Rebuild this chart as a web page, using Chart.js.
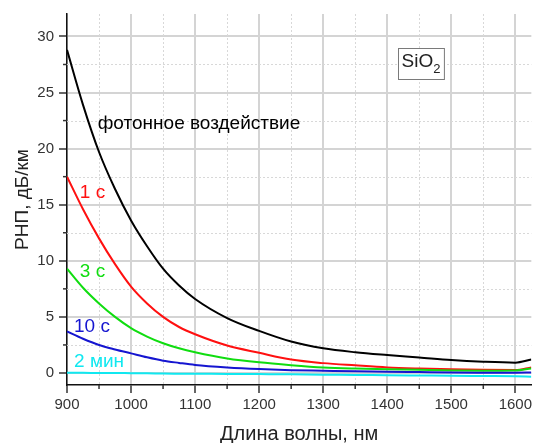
<!DOCTYPE html>
<html>
<head>
<meta charset="utf-8">
<script src="https://cdn.jsdelivr.net/npm/chart.js@4"></script>
<style>
  body { margin: 0; background: #fff; }
  canvas { display: block; }
</style>
</head>
<body>
<canvas id="chart" width="535" height="443"></canvas>
<script>
// Длины волн, нм
const wavelengths = [900, 925, 950, 975, 1000, 1025, 1050, 1075, 1100, 1150, 1200, 1250, 1300, 1350, 1400, 1450, 1500, 1550, 1600, 1625];

// РНП, дБ/км для разных режимов обработки
const photonLoss = [28.8, 23.9, 19.7, 16.4, 13.6, 11.3, 9.3, 7.8, 6.6, 4.9, 3.75, 2.8, 2.2, 1.85, 1.6, 1.38, 1.15, 1.0, 0.92, 1.2];
const loss1s     = [17.5, 14.6, 12.0, 9.7, 7.7, 6.2, 5.0, 4.1, 3.45, 2.45, 1.8, 1.2, 0.88, 0.68, 0.5, 0.4, 0.33, 0.28, 0.27, 0.5];
const loss3s     = [9.3, 7.6, 6.2, 5.0, 4.0, 3.25, 2.65, 2.2, 1.85, 1.3, 0.95, 0.7, 0.5, 0.4, 0.34, 0.28, 0.22, 0.2, 0.22, 0.4];
const loss10s    = [3.7, 3.05, 2.5, 2.1, 1.75, 1.4, 1.1, 0.9, 0.72, 0.5, 0.35, 0.25, 0.2, 0.15, 0.12, 0.08, 0.04, 0.03, 0.03, 0.05];
const loss2min   = [0.02, 0.02, 0.0, 0.0, -0.02, -0.03, -0.05, -0.06, -0.07, -0.08, -0.1, -0.12, -0.15, -0.17, -0.2, -0.22, -0.24, -0.27, -0.3, -0.33];

// Деления осей
const xTicks = [900, 1000, 1100, 1200, 1300, 1400, 1500, 1600];
const xMinor = [950, 1050, 1150, 1250, 1350, 1450, 1550];
const yTicks = [0, 5, 10, 15, 20, 25, 30];
const yMinor = [2.5, 7.5, 12.5, 17.5, 22.5, 27.5];

// Подписи кривых: текст, цвет, точка привязки (левый край, середина по высоте)
const curveLabels = [
  { text: 'фотонное воздействие', color: '#000000', x: 948, y: 22.2 },
  { text: '1 с', color: '#ff1010', x: 920, y: 16.1 },
  { text: '3 с', color: '#10dd10', x: 920, y: 9.0 },
  { text: '10 с', color: '#1515d0', x: 911, y: 4.1 },
  { text: '2 мин', color: '#10e8f0', x: 911, y: 1.0 }
];

const FONT = 'Arial, "Liberation Sans", sans-serif';

const toPoints = arr => arr.map((v, i) => ({ x: wavelengths[i], y: v }));

function series(data, color) {
  return {
    data: toPoints(data),
    borderColor: color,
    borderWidth: 2,
    pointRadius: 0,
    fill: false,
    cubicInterpolationMode: 'monotone'
  };
}

// Дополнительная сетка (пунктир) и малые деления
const minorGrid = {
  id: 'minorGrid',
  beforeDatasetsDraw(chart) {
    const { ctx, chartArea: a, scales: { x, y } } = chart;
    ctx.save();
    ctx.strokeStyle = '#d8d8d8';
    ctx.lineWidth = 1;
    ctx.setLineDash([2, 2]);
    xMinor.forEach(v => {
      const px = Math.round(x.getPixelForValue(v)) + 0.5;
      ctx.beginPath(); ctx.moveTo(px, a.top); ctx.lineTo(px, a.bottom); ctx.stroke();
    });
    yMinor.forEach(v => {
      const py = Math.round(y.getPixelForValue(v)) + 0.5;
      ctx.beginPath(); ctx.moveTo(a.left, py); ctx.lineTo(a.right, py); ctx.stroke();
    });
    ctx.restore();
  },
  afterDraw(chart) {
    const { ctx, chartArea: a, scales: { x, y } } = chart;
    ctx.save();
    ctx.strokeStyle = '#333';
    ctx.lineWidth = 1.5;
    xMinor.forEach(v => {
      const px = x.getPixelForValue(v);
      ctx.beginPath(); ctx.moveTo(px, a.bottom); ctx.lineTo(px, a.bottom + 4); ctx.stroke();
    });
    yMinor.forEach(v => {
      const py = y.getPixelForValue(v);
      ctx.beginPath(); ctx.moveTo(a.left - 4, py); ctx.lineTo(a.left, py); ctx.stroke();
    });
    ctx.restore();
  }
};

// Подписи кривых и рамка с названием материала
const annotations = {
  id: 'annotations',
  afterDatasetsDraw(chart) {
    const { ctx, scales: { x, y } } = chart;
    ctx.save();
    ctx.font = '19px ' + FONT;
    ctx.textBaseline = 'middle';
    ctx.textAlign = 'left';
    curveLabels.forEach(l => {
      ctx.fillStyle = l.color;
      ctx.fillText(l.text, x.getPixelForValue(l.x), y.getPixelForValue(l.y));
    });

    // SiO2
    const cx = x.getPixelForValue(1452);
    const cy = y.getPixelForValue(27.6);
    ctx.font = '19px ' + FONT;
    const wMain = ctx.measureText('SiO').width;
    ctx.font = '13px ' + FONT;
    const wSub = ctx.measureText('2').width;
    const w = wMain + wSub + 7, h = 31;
    const bx = Math.round(cx - w / 2) + 0.5, by = Math.round(cy - h / 2) + 0.5;
    ctx.fillStyle = '#fff';
    ctx.fillRect(bx, by, w, h);
    ctx.strokeStyle = '#7a7a7a';
    ctx.lineWidth = 1;
    ctx.strokeRect(bx, by, w, h);
    ctx.fillStyle = '#222';
    ctx.font = '19px ' + FONT;
    ctx.fillText('SiO', bx + 3, cy - 2);
    ctx.font = '13px ' + FONT;
    ctx.fillText('2', bx + 3 + wMain, cy + 6);
    ctx.restore();
  }
};

const ctx = document.getElementById('chart').getContext('2d');
const chart = new Chart(ctx, {
  type: 'line',
  data: {
    datasets: [
      series(loss2min, '#10e8f0'),
      series(loss10s, '#1515d0'),
      series(loss3s, '#10dd10'),
      series(loss1s, '#ff1010'),
      series(photonLoss, '#000000')
    ]
  },
  options: {
    responsive: false,
    animation: false,
    layout: { padding: { top: 13, right: 0, left: 0, bottom: 0 } },
    plugins: {
      legend: { display: false },
      tooltip: { enabled: false }
    },
    scales: {
      x: {
        type: 'linear',
        min: 900,
        max: 1625,
        afterBuildTicks: s => { s.ticks = xTicks.map(v => ({ value: v })); },
        afterFit: s => { s.height = 58; },
        ticks: {
          font: { family: FONT, size: 15 },
          color: '#333',
          padding: 3,
          maxRotation: 0,
          autoSkip: false,
          callback: v => String(v)
        },
        grid: { color: '#d4d4d4', lineWidth: 2, tickColor: '#333', tickLength: 8, tickWidth: 1.5 },
        border: { color: '#111', width: 1.5 },
        title: {
          display: true,
          text: 'Длина волны, нм',
          color: '#222',
          font: { family: FONT, size: 20, lineHeight: 1 },
          padding: { top: 0, bottom: -1 }
        }
      },
      y: {
        min: -1.07,
        max: 32,
        afterBuildTicks: s => { s.ticks = yTicks.map(v => ({ value: v })); },
        afterFit: s => { s.width = 67; },
        ticks: {
          font: { family: FONT, size: 15 },
          color: '#333',
          padding: 5,
          autoSkip: false,
          callback: v => String(v)
        },
        grid: { color: '#d4d4d4', lineWidth: 2, tickColor: '#333', tickLength: 8, tickWidth: 1.5 },
        border: { color: '#111', width: 1.5 },
        title: {
          display: true,
          text: 'РНП, дБ/км',
          color: '#222',
          font: { family: FONT, size: 19, lineHeight: 1 },
          padding: { top: 13, bottom: 0 }
        }
      }
    }
  },
  plugins: [minorGrid, annotations]
});
</script>
</body>
</html>
